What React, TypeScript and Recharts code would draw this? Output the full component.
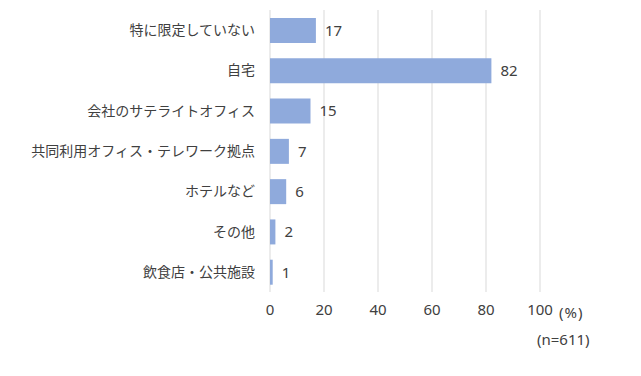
import { BarChart, Bar, XAxis, YAxis, CartesianGrid, LabelList } from 'recharts';

const categories = [
  '特に限定していない',
  '自宅',
  '会社のサテライトオフィス',
  '共同利用オフィス・テレワーク拠点',
  'ホテルなど',
  'その他',
  '飲食店・公共施設',
];
const shares = [17, 82, 15, 7, 6, 2, 1];
const xTicks = [0, 20, 40, 60, 80, 100];

const data = categories.map((name, i) => ({ name, value: shares[i] }));

const FONT = '"Noto Sans CJK JP", "Noto Sans", sans-serif';
const NUM_FONT = '"Noto Sans", "DejaVu Sans", sans-serif';
const TEXT = '#404040';

export default function App() {
  return (
    <div style={{ position: 'relative', width: 641, height: 376, fontFamily: FONT }}>
      <style>{`body { margin: 0; }`}</style>
      <BarChart
        width={641}
        height={376}
        data={data}
        layout="vertical"
        margin={{ top: 10, right: 101, bottom: 54, left: 0 }}
      >
        <CartesianGrid horizontal={false} stroke="#d9d9d9" />
        <XAxis
          type="number"
          domain={[0, 100]}
          ticks={xTicks}
          axisLine={false}
          tickLine={false}
          tickSize={0}
          tickMargin={12}
          height={30}
          tick={{ fontSize: 15, fill: TEXT, fontFamily: NUM_FONT }}
        />
        <YAxis
          type="category"
          dataKey="name"
          width={270}
          axisLine={false}
          tickLine={false}
          tickSize={0}
          tickMargin={15}
          interval={0}
          tick={{ fontSize: 14, fill: TEXT, fontFamily: FONT }}
        />
        <Bar dataKey="value" fill="#8faadc" barSize={25} isAnimationActive={false}>
          <LabelList
            dataKey="value"
            position="right"
            offset={9}
            style={{ fontSize: 15, fill: TEXT, fontFamily: NUM_FONT }}
          />
        </Bar>
      </BarChart>
      <div style={{ position: 'absolute', left: 559, top: 302, fontSize: 15, color: TEXT, fontFamily: NUM_FONT, letterSpacing: 1 }}>(%)</div>
      <div style={{ position: 'absolute', left: 537, top: 329, fontSize: 15, color: TEXT, fontFamily: NUM_FONT }}>(n=611)</div>
    </div>
  );
}
